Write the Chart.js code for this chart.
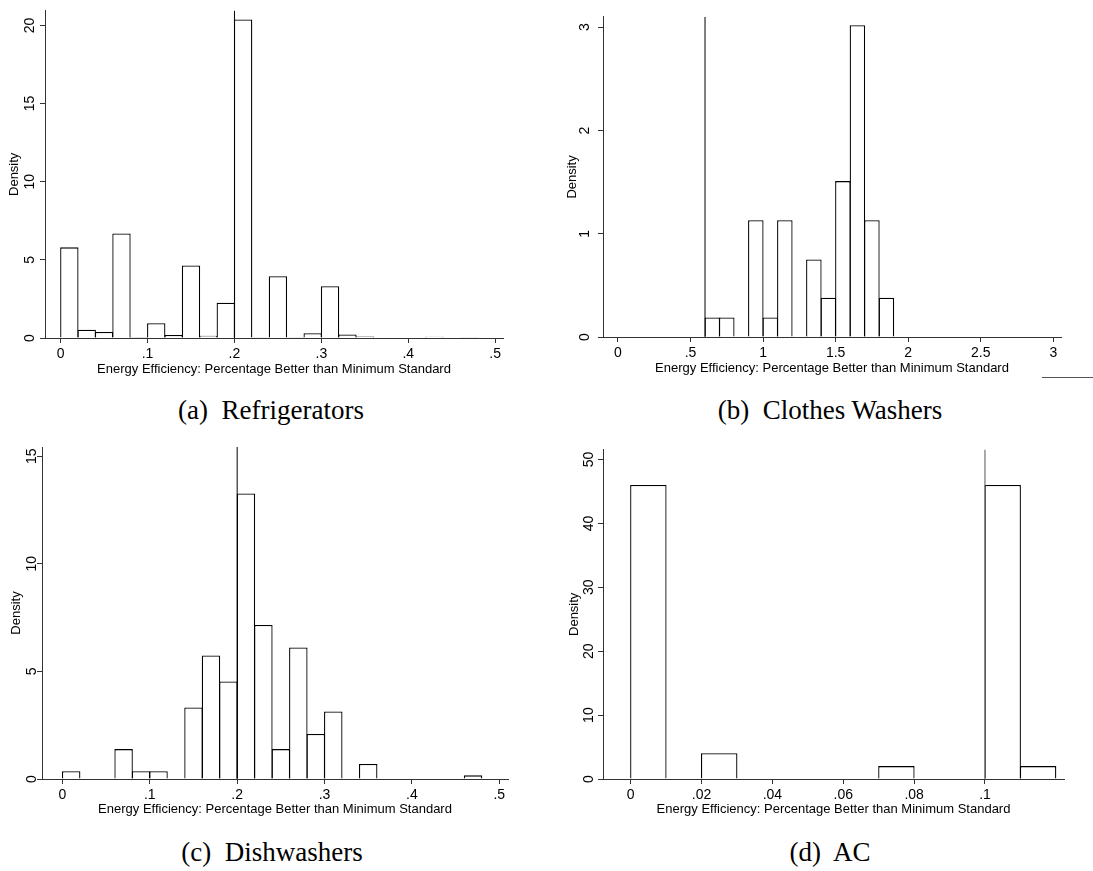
<!DOCTYPE html>
<html>
<head>
<meta charset="utf-8">
<script src="https://cdn.jsdelivr.net/npm/chart.js@4.4.0/dist/chart.umd.min.js"></script>
<style>
body { margin: 0; background: #fff; width: 1093px; height: 871px; position: relative; overflow: hidden; }
canvas { position: absolute; }
.cap { position: absolute; width: 400px; text-align: center; font-family: "Liberation Serif", serif; font-size: 27px; line-height: 30px; color: #000; white-space: pre; }
#stray { position: absolute; left: 1042px; top: 377px; width: 51px; border-top: 1px solid #555; }
</style>
</head>
<body>
<canvas id="fridge" width="546" height="385" style="left:0px;top:0px"></canvas>
<canvas id="washer" width="547" height="385" style="left:546px;top:0px"></canvas>
<canvas id="dish" width="546" height="385" style="left:0px;top:440px"></canvas>
<canvas id="ac" width="547" height="385" style="left:546px;top:440px"></canvas>
<div class="cap" style="left:71px;top:395px">(a)  Refrigerators</div>
<div class="cap" style="left:630px;top:395px">(b)  Clothes Washers</div>
<div class="cap" style="left:72px;top:837px">(c)  Dishwashers</div>
<div class="cap" style="left:630px;top:837px">(d)  AC</div>
<div id="stray"></div>
<script>
// histogram bins (centers) and densities
var fridgeBins = [0.01, 0.03, 0.05, 0.07, 0.09, 0.11, 0.13, 0.15, 0.17, 0.19, 0.21, 0.23, 0.25, 0.27, 0.29, 0.31, 0.33, 0.35, 0.37, 0.39, 0.41, 0.43, 0.45, 0.47];
var fridgeDensity = [5.80, 0.53, 0.38, 6.69, 0.06, 0.95, 0.19, 4.64, 0.15, 2.26, 20.38, 0.04, 3.95, 0.04, 0.30, 3.31, 0.23, 0.10, 0, 0, 0, 0.08, 0, 0.04];
var fridgeStandard = 0.2;

var washerBins = [0.65, 0.75, 0.85, 0.95, 1.05, 1.15, 1.25, 1.35, 1.45, 1.55, 1.65, 1.75, 1.85];
var washerDensity = [0.19, 0.19, 0, 1.13, 0.19, 1.13, 0, 0.75, 0.38, 1.51, 3.02, 1.13, 0.38];
var washerStandard = 0.6;

var dishBins = [0.01, 0.03, 0.05, 0.07, 0.09, 0.11, 0.13, 0.15, 0.17, 0.19, 0.21, 0.23, 0.25, 0.27, 0.29, 0.31, 0.33, 0.35, 0.37, 0.39, 0.41, 0.43, 0.45, 0.47];
var dishDensity = [0.36, 0, 0, 1.39, 0.36, 0.36, 0, 3.32, 5.74, 4.53, 13.27, 7.16, 1.39, 6.11, 2.09, 3.14, 0, 0.70, 0, 0, 0, 0, 0, 0.17];
var dishStandard = 0.2;

var acBins = [0.005, 0.015, 0.025, 0.035, 0.045, 0.055, 0.065, 0.075, 0.085, 0.095, 0.105, 0.115];
var acDensity = [46, 0, 4.03, 0, 0, 0, 0, 2.02, 0, 0, 46, 2.02];
var acStandard = 0.1;

// tick values and labels
var fridgeXTicks = [0, 0.1, 0.2, 0.3, 0.4, 0.5];
var fridgeXLabels = ["0", ".1", ".2", ".3", ".4", ".5"];
var fridgeYTicks = [0, 5, 10, 15, 20];
var washerXTicks = [0, 0.5, 1, 1.5, 2, 2.5, 3];
var washerXLabels = ["0", ".5", "1", "1.5", "2", "2.5", "3"];
var washerYTicks = [0, 1, 2, 3];
var dishXTicks = [0, 0.1, 0.2, 0.3, 0.4, 0.5];
var dishXLabels = ["0", ".1", ".2", ".3", ".4", ".5"];
var dishYTicks = [0, 5, 10, 15];
var acXTicks = [0, 0.02, 0.04, 0.06, 0.08, 0.1];
var acXLabels = ["0", ".02", ".04", ".06", ".08", ".1"];
var acYTicks = [0, 10, 20, 30, 40, 50];

var xTitle = "Energy Efficiency: Percentage Better than Minimum Standard";
var yTitle = "Density";

var titleFont = { family: "'Liberation Sans', Arial, sans-serif", size: 13 };
var tickFont = { family: "'Liberation Sans', Arial, sans-serif", size: 14 };
var axisColor = "#333";

function drawHist(id, bins, density, cut, xTicks, xLabels, yTicks, look) {
  var ctx = document.getElementById(id).getContext("2d");
  var points = bins.map(function(b, i) { return { x: b, y: density[i] }; });
  return new Chart(ctx, {
    type: "bar",
    data: {
      datasets: [
        {
          type: "line",
          data: [{ x: cut, y: 0 }, { x: cut, y: look.yMax }],
          borderColor: look.lineColor,
          borderWidth: 1,
          pointRadius: 0,
          order: 0
        },
        {
          type: "bar",
          data: points,
          backgroundColor: "#fff",
          borderColor: "#000",
          borderWidth: 1.3,
          barPercentage: look.barPct,
          categoryPercentage: 1,
          order: 1
        }
      ]
    },
    options: {
      responsive: false,
      animation: false,
      layout: { padding: { top: look.padTop, right: look.padRight, left: 0, bottom: 0 } },
      plugins: { legend: { display: false }, tooltip: { enabled: false } },
      scales: {
        x: {
          type: "linear",
          min: look.xMin,
          max: look.xMax,
          offset: false,
          grid: { drawOnChartArea: false, offset: false, tickLength: 5, color: axisColor },
          border: { color: axisColor, width: 1 },
          ticks: {
            autoSkip: false, maxRotation: 0, padding: 3, font: tickFont, color: "#000",
            callback: function(v, i) { return xLabels[i]; }
          },
          afterBuildTicks: function(s) { s.ticks = xTicks.map(function(v) { return { value: v }; }); },
          title: { display: true, text: xTitle, font: titleFont, color: "#000", padding: { top: 0, bottom: look.xTitlePad } },
          afterFit: function(s) { s.height = look.xAxisH; }
        },
        y: {
          min: 0,
          max: look.yMax,
          grid: { drawOnChartArea: false, tickLength: 5, color: axisColor },
          border: { color: axisColor, width: 1 },
          ticks: {
            minRotation: 90, maxRotation: 90, crossAlign: "center", padding: look.yTickPad,
            font: tickFont, color: "#000",
            callback: function(v) { return String(v); }
          },
          afterBuildTicks: function(s) { s.ticks = yTicks.map(function(v) { return { value: v }; }); },
          title: { display: true, text: yTitle, font: titleFont, color: "#000", padding: { top: look.yTitlePad, bottom: 0 } },
          afterFit: function(s) { s.width = look.yAxisW; }
        }
      }
    }
  });
}

drawHist("fridge", fridgeBins, fridgeDensity, fridgeStandard, fridgeXTicks, fridgeXLabels, fridgeYTicks, {
  xMin: -0.018, xMax: 0.509, yMax: 20.95, padTop: 7, padRight: 43, xAxisH: 47, yAxisW: 45,
  xTitlePad: 8.2, yTitlePad: 6.2, yTickPad: 2.2, barPct: 1.057, lineColor: "#000"
});
drawHist("washer", washerBins, washerDensity, washerStandard, washerXTicks, washerXLabels, washerYTicks, {
  xMin: -0.103, xMax: 3.053, yMax: 3.1, padTop: 7, padRight: 32, xAxisH: 48, yAxisW: 57,
  xTitlePad: 9.2, yTitlePad: 18.9, yTickPad: 8.5, barPct: 1.069, lineColor: "#000"
});
drawHist("dish", dishBins, dishDensity, dishStandard, dishXTicks, dishXLabels, dishYTicks, {
  xMin: -0.0234, xMax: 0.510, yMax: 15.43, padTop: 7, padRight: 38, xAxisH: 46, yAxisW: 42,
  xTitlePad: 8.2, yTitlePad: 8.2, yTickPad: -3, barPct: 1.057, lineColor: "#000"
});
drawHist("ac", acBins, acDensity, acStandard, acXTicks, acXLabels, acYTicks, {
  xMin: -0.0078, xMax: 0.1223, yMax: 51.55, padTop: 7, padRight: 29, xAxisH: 46, yAxisW: 57,
  xTitlePad: 8.2, yTitlePad: 20.2, yTickPad: 1.2, barPct: 1.028, lineColor: "#555"
});
</script>
</body>
</html>
